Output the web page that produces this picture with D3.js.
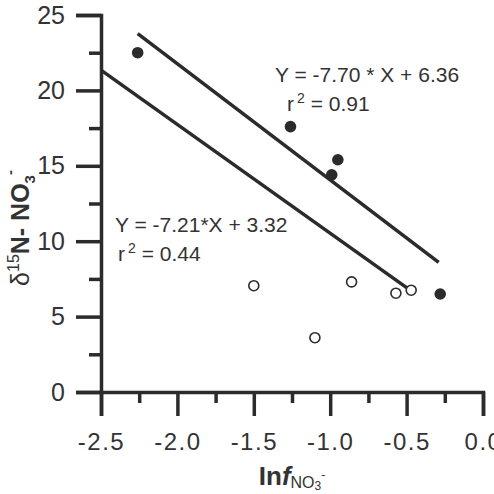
<!DOCTYPE html>
<html>
<head>
<meta charset="utf-8">
<script src="https://cdn.jsdelivr.net/npm/d3@7"></script>
<style>
  body { margin: 0; background: #fff; }
  svg { display: block; }
  text { font-family: "Liberation Sans", Arial, sans-serif; fill: #333; }
</style>
</head>
<body>
<div class="chart"></div>
<script>
// data
var filledX = [-2.26, -1.26, -0.95, -0.99, -0.28];
var filledY = [22.5, 17.6, 15.4, 14.4, 6.5];
var openX = [-1.50, -1.10, -0.86, -0.57, -0.47];
var openY = [7.05, 3.6, 7.3, 6.55, 6.75];

// regression lines: slope, intercept, x extent
var fitSlope = [-7.70, -7.21];
var fitIntercept = [6.36, 3.32];
var fitStart = [-2.26, -2.5];
var fitEnd = [-0.29, -0.5];

var xMajor = [-2.5, -2.0, -1.5, -1.0, -0.5, 0.0];
var xMinor = [-2.25, -1.75, -1.25, -0.75, -0.25];
var yMajor = [0, 5, 10, 15, 20, 25];
var yMinor = [2.5, 7.5, 12.5, 17.5, 22.5];

var width = 494, height = 494;
var ink = '#2b2b2b';

var svg = d3.select('.chart')
  .append('svg')
  .attr('width', width)
  .attr('height', height);

var x = d3.scaleLinear().domain([-2.5, 0]).range([101, 483]);
var y = d3.scaleLinear().domain([0, 25]).range([392, 15]);

// y axis, major then minor ticks
var yAxis = svg.append('g')
  .attr('transform', 'translate(' + x(-2.5) + ',0)')
  .call(d3.axisLeft(y).tickValues(yMajor).tickSize(25).tickPadding(11).tickFormat(function(d) { return String(d); }));

svg.append('g')
  .attr('transform', 'translate(' + x(-2.5) + ',0)')
  .call(d3.axisLeft(y).tickValues(yMinor).tickSize(12).tickFormat(''))
  .select('.domain').remove();

// plain hyphen minus, like the original
var xAxis = svg.append('g')
  .attr('transform', 'translate(0,' + y(0) + ')')
  .call(d3.axisBottom(x).tickValues(xMajor).tickSize(24).tickPadding(17).tickFormat(function(d) { return d.toFixed(1); }));

svg.append('g')
  .attr('transform', 'translate(0,' + y(0) + ')')
  .call(d3.axisBottom(x).tickValues(xMinor).tickSize(11).tickFormat(''))
  .select('.domain').remove();

svg.selectAll('.domain').attr('stroke', ink).attr('stroke-width', 3.5);
svg.selectAll('.tick line').attr('stroke', ink).attr('stroke-width', 3.5);
svg.selectAll('.tick text')
  .attr('fill', '#333')
  .style('font-family', '"Liberation Sans", Arial, sans-serif');
yAxis.selectAll('.tick text').style('font-size', '25px');
xAxis.selectAll('.tick text').style('font-size', '24px').style('letter-spacing', '1.5px');

// fit lines
fitSlope.forEach(function(m, i) {
  var b = fitIntercept[i];
  svg.append('line')
    .attr('x1', x(fitStart[i]))
    .attr('y1', y(m * fitStart[i] + b))
    .attr('x2', x(fitEnd[i]))
    .attr('y2', y(m * fitEnd[i] + b))
    .attr('stroke', ink)
    .attr('stroke-width', 3.5);
});

// points
svg.selectAll('.open')
  .data(openX)
  .enter().append('circle')
  .attr('class', 'open')
  .attr('cx', function(d) { return x(d); })
  .attr('cy', function(d, i) { return y(openY[i]); })
  .attr('r', 5)
  .attr('fill', '#fff')
  .attr('stroke', ink)
  .attr('stroke-width', 1.6);

svg.selectAll('.filled')
  .data(filledX)
  .enter().append('circle')
  .attr('class', 'filled')
  .attr('cx', function(d) { return x(d); })
  .attr('cy', function(d, i) { return y(filledY[i]); })
  .attr('r', 5.8)
  .attr('fill', ink);

// equations
function equation(px, py, line1, r2, rx) {
  svg.append('text')
    .attr('x', px).attr('y', py)
    .style('font-size', '21px')
    .text(line1);
  var t = svg.append('text')
    .attr('x', rx).attr('y', py + 28.5)
    .style('font-size', '21px');
  t.append('tspan').text('r');
  t.append('tspan').attr('dx', 3).attr('dy', -8).style('font-size', '14px').text('2');
  t.append('tspan').attr('dy', 8).text(' = ' + r2);
}
equation(275, 82, 'Y = -7.70 * X + 6.36', '0.91', 287);
equation(115, 232, 'Y = -7.21*X + 3.32', '0.44', 118);

// y axis title
var yt = svg.append('text')
  .attr('transform', 'translate(29,228) rotate(-90)')
  .attr('text-anchor', 'middle')
  .style('font-size', '25px');
yt.append('tspan').text('δ');
yt.append('tspan').attr('dy', -10).style('font-size', '16px').text('15');
yt.append('tspan').attr('dy', 10).style('font-weight', 'bold').text('N- NO');
yt.append('tspan').attr('dy', 6).style('font-size', '15px').style('font-weight', 'bold').text('3');
yt.append('tspan').attr('dy', -20).style('font-size', '15px').style('font-weight', 'bold').text('-');

// x axis title
var xt = svg.append('text')
  .attr('x', 292).attr('y', 485)
  .attr('text-anchor', 'middle')
  .style('font-size', '26px')
  .style('font-weight', 'bold');
xt.append('tspan').text('In');
xt.append('tspan').style('font-style', 'italic').text('f');
xt.append('tspan').attr('dy', 3).style('font-size', '16px').style('font-weight', 'normal').text('NO');
xt.append('tspan').attr('dy', 2).style('font-size', '12px').style('font-weight', 'normal').text('3');
xt.append('tspan').attr('dy', -11).style('font-size', '12px').style('font-weight', 'normal').text('-');
</script>
</body>
</html>
